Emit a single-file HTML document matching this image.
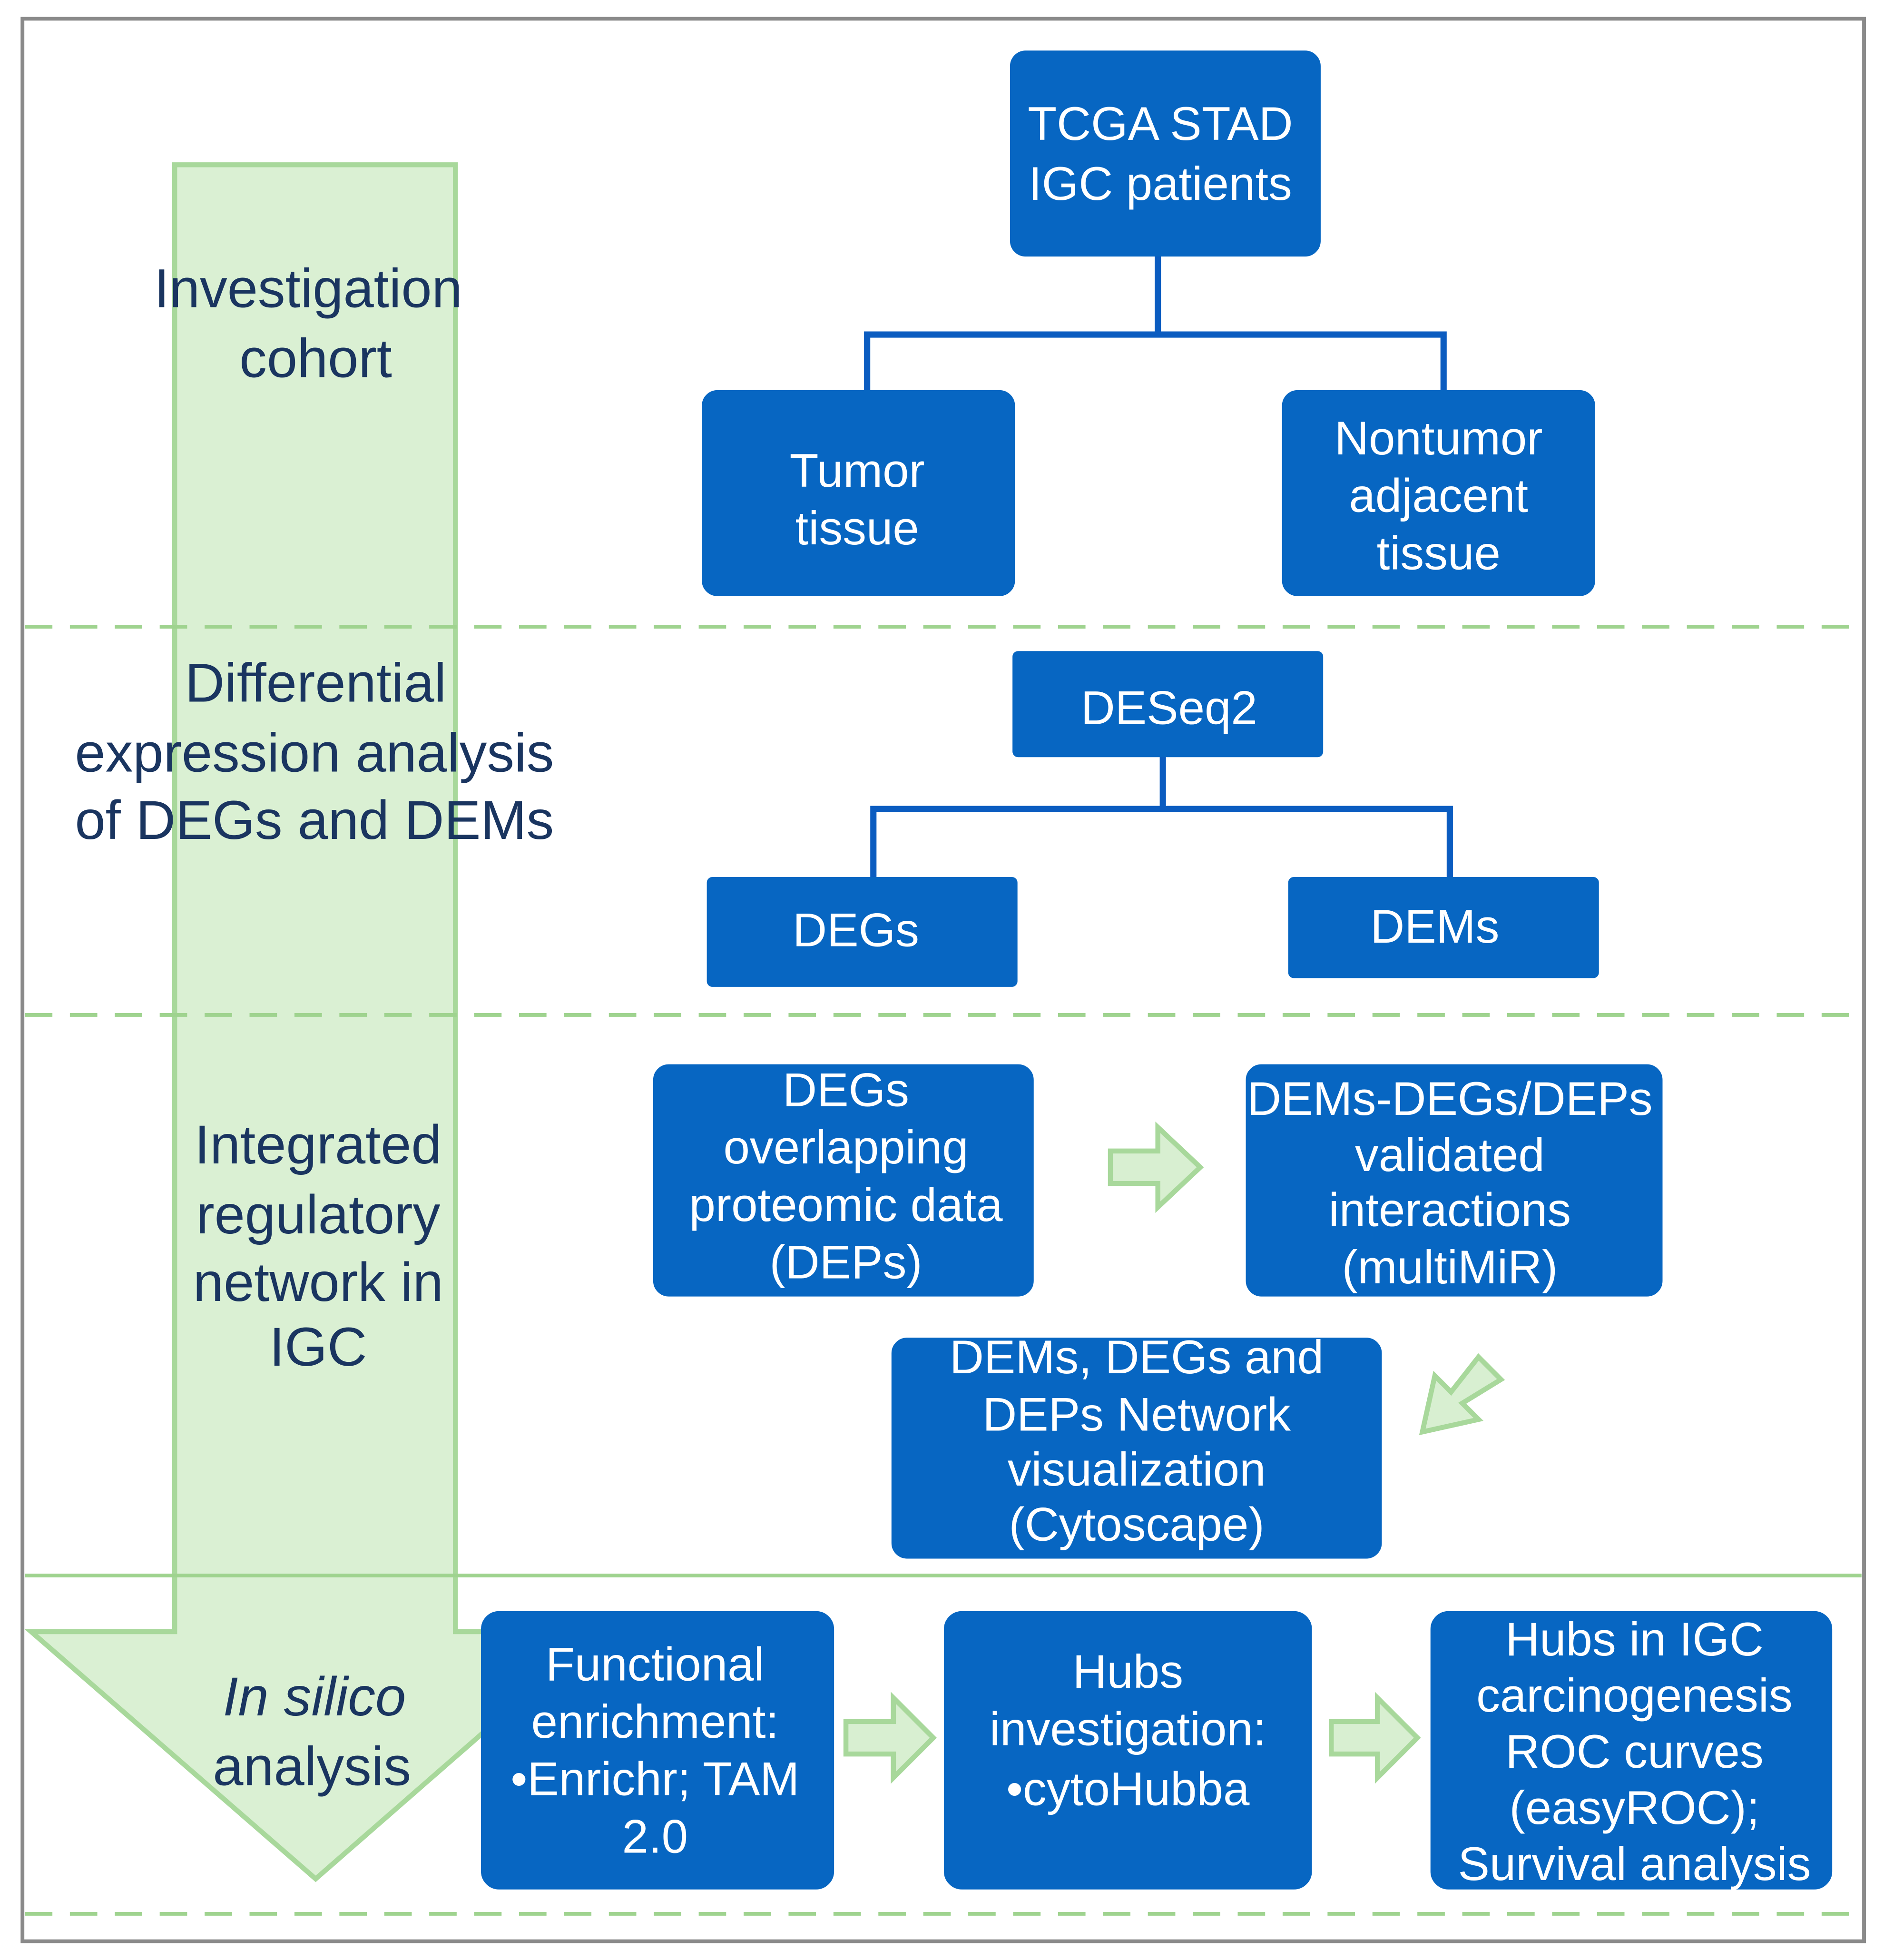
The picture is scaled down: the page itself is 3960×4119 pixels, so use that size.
<!DOCTYPE html>
<html><head><meta charset="utf-8"><style>
html,body{margin:0;padding:0;background:#fff;}
svg{display:block;}
text{font-family:"Liberation Sans",Arial,sans-serif;}
.w{fill:#fff;font-size:38px;text-anchor:middle;}
.d{fill:#1a3560;font-size:44px;text-anchor:middle;}
.b{fill:#0766c2;stroke:#0766c2;}
.ln{stroke:#0b5cc0;stroke-width:5;fill:none;}
.ga{fill:#d8efd1;stroke:#a8d89b;stroke-width:4;}
</style></head><body>
<svg width="3960" height="4119" viewBox="0 0 1510 1570" preserveAspectRatio="none" xmlns="http://www.w3.org/2000/svg">
<rect x="18" y="15" width="1476" height="1540" fill="#fff" stroke="#8a8a8a" stroke-width="3"/>
<polygon class="ga" points="140,132 365,132 365,1307 480,1307 253,1505 25,1307 140,1307" fill-opacity="0.95"/>
<g stroke="#9fd38f" stroke-width="3" fill="none">
<line x1="20" y1="502" x2="1492" y2="502" stroke-dasharray="22,14"/>
<line x1="20" y1="813" x2="1492" y2="813" stroke-dasharray="22,14"/>
<line x1="20" y1="1262" x2="1492" y2="1262"/>
<line x1="20" y1="1533" x2="1492" y2="1533" stroke-dasharray="22,14"/>
</g>
<text class="d" x="247" y="246">Investigation</text>
<text class="d" x="253" y="302">cohort</text>
<text class="d" x="253" y="562">Differential</text>
<text class="d" x="252" y="618">expression analysis</text>
<text class="d" x="252" y="672">of DEGs and DEMs</text>
<text class="d" x="255" y="932">Integrated</text>
<text class="d" x="255" y="988">regulatory</text>
<text class="d" x="255" y="1042">network in</text>
<text class="d" x="255" y="1094">IGC</text>
<text class="d" x="252" y="1374" font-style="italic">In silico</text>
<text class="d" x="250" y="1430">analysis</text>
<polyline class="ln" points="928,205 928,268"/>
<polyline class="ln" points="695,313 695,268 1157,268 1157,313"/>
<polyline class="ln" points="932,606 932,648"/>
<polyline class="ln" points="700,703 700,648 1162,648 1162,703"/>
<rect class="b" x="810" y="41" width="248" height="164" rx="12"/>
<rect class="b" x="563" y="313" width="250" height="164" rx="12"/>
<rect class="b" x="1028" y="313" width="250" height="164" rx="12"/>
<rect class="b" x="812" y="522" width="248" height="84" rx="4"/>
<rect class="b" x="567" y="703" width="248" height="87" rx="4"/>
<rect class="b" x="1033" y="703" width="248" height="80" rx="4"/>
<rect class="b" x="524" y="853" width="304" height="185" rx="12"/>
<rect class="b" x="999" y="853" width="333" height="185" rx="12"/>
<rect class="b" x="715" y="1072" width="392" height="176" rx="12"/>
<rect class="b" x="386" y="1291" width="282" height="222" rx="14"/>
<rect class="b" x="757" y="1291" width="294" height="222" rx="14"/>
<rect class="b" x="1147" y="1291" width="321" height="222" rx="14"/>
<text class="w" x="930" y="112" font-size="40">TCGA STAD</text>
<text class="w" x="930" y="160" font-size="40">IGC patients</text>
<text class="w" x="687" y="390">Tumor</text>
<text class="w" x="687" y="436">tissue</text>
<text class="w" x="1153" y="364">Nontumor</text>
<text class="w" x="1153" y="410">adjacent</text>
<text class="w" x="1153" y="456">tissue</text>
<text class="w" x="937" y="580">DESeq2</text>
<text class="w" x="686" y="758">DEGs</text>
<text class="w" x="1150" y="755">DEMs</text>
<text class="w" x="678" y="886" font-size="36">DEGs</text>
<text class="w" x="678" y="932" font-size="36">overlapping</text>
<text class="w" x="678" y="978" font-size="36">proteomic data</text>
<text class="w" x="678" y="1024" font-size="36">(DEPs)</text>
<text class="w" x="1162" y="893" font-size="32.5">DEMs-DEGs/DEPs</text>
<text class="w" x="1162" y="938" font-size="32.5">validated</text>
<text class="w" x="1162" y="982" font-size="32.5">interactions</text>
<text class="w" x="1162" y="1028" font-size="32.5">(multiMiR)</text>
<text class="w" x="911" y="1100" font-size="33">DEMs, DEGs and</text>
<text class="w" x="911" y="1146" font-size="33">DEPs Network</text>
<text class="w" x="911" y="1190" font-size="33">visualization</text>
<text class="w" x="911" y="1234" font-size="33">(Cytoscape)</text>
<text class="w" x="525" y="1346" font-size="36">Functional</text>
<text class="w" x="525" y="1392" font-size="36">enrichment:</text>
<text class="w" x="525" y="1438" font-size="36">•Enrichr; TAM</text>
<text class="w" x="525" y="1484" font-size="36">2.0</text>
<text class="w" x="904" y="1352" font-size="36">Hubs</text>
<text class="w" x="904" y="1398" font-size="36">investigation:</text>
<text class="w" x="904" y="1446" font-size="36">•cytoHubba</text>
<text class="w" x="1310" y="1326" font-size="34">Hubs in IGC</text>
<text class="w" x="1310" y="1371" font-size="34">carcinogenesis</text>
<text class="w" x="1310" y="1416" font-size="34">ROC curves</text>
<text class="w" x="1310" y="1461" font-size="34">(easyROC);</text>
<text class="w" x="1310" y="1506" font-size="34">Survival  analysis</text>
<g class="ga" stroke-width="3">
<polygon points="890,922 928,922 928,903 962,935 928,967 928,948 890,948"/>
<polygon points="678,1379 716,1379 716,1360 748,1392 716,1424 716,1405 678,1405"/>
<polygon points="1067,1379 1104,1379 1104,1360 1136,1392 1104,1424 1104,1405 1067,1405"/>
<polygon points="1203,1105 1185,1087 1163,1115 1150,1102 1140,1147 1185,1137 1172,1124"/>
</g>
</svg>
</body></html>
